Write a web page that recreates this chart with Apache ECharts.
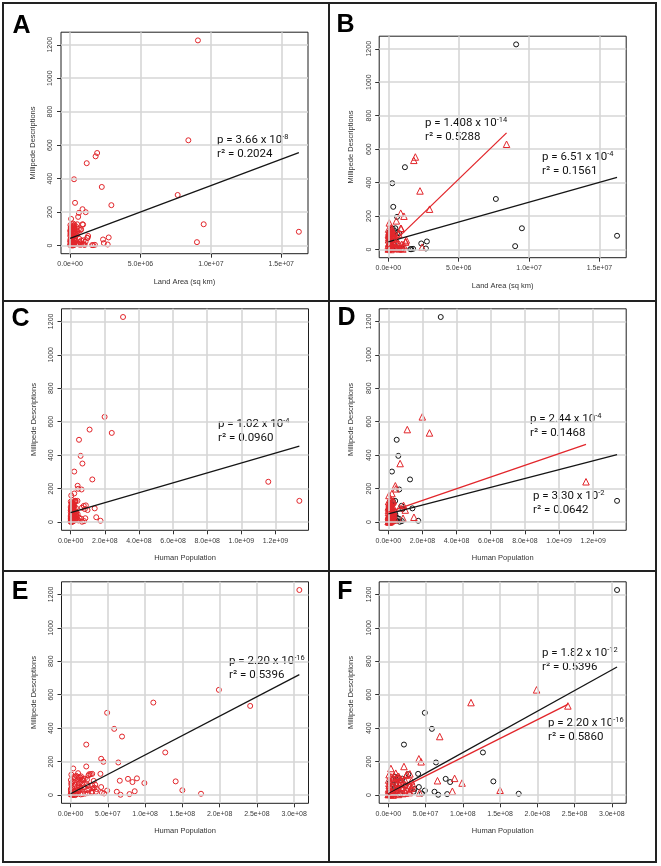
<!DOCTYPE html>
<html><head><meta charset="utf-8">
<script src="https://cdn.jsdelivr.net/npm/echarts@6/dist/echarts.min.js"></script>
<style>html,body{margin:0;padding:0;background:#fff}#c{width:661px;height:866px}</style>
</head><body><div id="c"></div>
<script>
// ---------- DATA ----------
// land area (km^2)
const landArea = [
 9.08e6,8.40e6,7.64e6,9.49e6,9.01e6,16.25e6,1.92e6,1.81e6,1.18e6,0.28e6,
 2.25e6,2.93e6,0.35e6,0.88e6,1.11e6,0.62e6,0.57e6,0.07e6,0.88e6,0.50e6,
 0.31e6,0.14e6,0.80e6,0.78e6,0.30e6,0.36e6,0.33e6,0.51e6,0.24e6,1.63e6,
 1.00e6,1.10e6,0.10e6,0.58e6,2.74e6,2.67e6,2.34e6,2.40e6,1.56e6,1.76e6,
 1.28e6,1.22e6,0.92e6,0.21e6,
 0.05e6,0.11e6,0.19e6,0.24e6,0.32e6,0.27e6,0.46e6,0.08e6,0.04e6,0.39e6,
 0.03e6,0.11e6,0.20e6,0.75e6,0.62e6,0.09e6,0.01e6,0.03e6,0.45e6,0.17e6,
 0.07e6,0.30e6,0.65e6,0.25e6,0.12e6,0.02e6,0.96e6,0.41e6,0.04e6,0.09e6,
 0.14e6,0.33e6,0.55e6,0.21e6,0.06e6,0.01e6,0.003e6,0.27e6,0.10e6,0.19e6,
 0.75e6,0.63e6,1.03e6,0.46e6,0.24e6,0.07e6,0.002e6,0.18e6,0.34e6,0.12e6,
 0.28e6,0.53e6,0.05e6,0.02e6,0.08e6,0.16e6,1.24e6,0.01e6,0.11e6,0.04e6,
 0.80e6,0.26e6,0.92e6,0.70e6
];
// human population
const humanPop = [
 307e6,199e6,21e6,1340e6,34e6,141e6,111e6,241e6,49e6,58.5e6,
 69e6,1158e6,127e6,41e6,44e6,64e6,21e6,3.5e6,29e6,40e6,
 27e6,150e6,175e6,77e6,89e6,83e6,99e6,66e6,62e6,67e6,
 79e6,86e6,49e6,45e6,41e6,16e6,35e6,42e6,2.7e6,6.4e6,
 29e6,18e6,25e6,10e6,
 4.5e6,7.5e6,11e6,14e6,17e6,24e6,9e6,10e6,16.5e6,13e6,
 3.2e6,11e6,22e6,15e6,19e6,6e6,1.2e6,0.8e6,33e6,5.3e6,
 8.8e6,31e6,30e6,25e6,2.1e6,0.3e6,12e6,7.1e6,10.6e6,4.4e6,
 3.3e6,28e6,23e6,19.5e6,1.9e6,0.1e6,0.05e6,4.6e6,2.7e6,6.4e6,
 13.7e6,3.6e6,3.4e6,7.3e6,1.3e6,4.0e6,0.4e6,9.5e6,32e6,23e6,
 14.5e6,15e6,5.9e6,1.0e6,13e6,22e6,13e6,0.4e6,10.5e6,2.0e6,
 22e6,2.5e6,9.2e6,29e6
];
// millipede descriptions
const descriptions = [
 1226,629,302,127,20,82,553,533,492,396,
 350,241,255,217,199,195,171,159,127,127,
 125,29,8,97,100,78,72,86,20,2,
 6,23,27,10,48,6,36,14,2,4,
 57,46,125,131,
 108,115,104,112,96,118,110,95,88,76,
 82,72,65,92,98,63,58,70,62,52,
 47,85,40,33,41,36,31,28,25,22,
 18,15,12,9,7,5,3,2,1,0,
 4,6,3,11,14,19,24,30,44,55,
 38,68,100,122,105,92,45,90,60,75,
 30,10,8,21
];
// region group: 0 = black circles, 1 = red triangles
const region = [
 0,1,0,0,0,0,1,1,0,0,
 1,1,0,1,1,0,1,1,1,0,
 0,1,0,0,1,0,1,1,0,0,
 0,1,0,0,0,0,0,1,0,0,
 1,1,1,1,
 1,1,1,1,1,1,0,0,0,1,
 1,1,1,1,0,0,1,1,1,1,
 0,1,1,1,1,1,1,0,0,0,
 1,1,1,1,1,1,1,0,0,1,
 1,1,1,1,0,1,1,1,1,0,
 1,1,1,1,0,1,1,1,0,0,
 1,1,1,1
];
// tick values
const yTicks = [0,200,400,600,800,1000,1200];
const areaTicks = [0,5e6,1e7,1.5e7];
const popTicksWide = [0,2e8,4e8,6e8,8e8,1e9,1.2e9];
const popTicksNarrow = [0,5e7,1e8,1.5e8,2e8,2.5e8,3e8];
// fitted regression line end points [x,y]
const fitA = [[0,42],[16.25e6,555]];
const fitBblack = [[0,46],[16.25e6,431]];
const fitBred = [[0,14],[8.40e6,697]];
const fitC = [[0,56],[1.34e9,454]];
const fitDred = [[0,59],[1.158e9,464]];
const fitDblack = [[0,49],[1.34e9,404]];
const fitE = [[0,8],[3.07e8,720]];
const fitFblack = [[0,7],[3.07e8,766]];
const fitFred = [[0,3],[2.41e8,542]];
// annotation texts: p mantissa, p exponent, r squared
const statP = ['3.66','1.408','6.51','1.02','2.44','3.30','2.20','1.82','2.20'];
const statExp = ['-8','-14','-4','-4','-4','-2','-16','-12','-16'];
const statR2 = ['0.2024','0.5288','0.1561','0.0960','0.1468','0.0642','0.5396','0.5396','0.5860'];
const panelLetters = ['A','B','C','D','E','F'];
const xNames = ['Land Area (sq km)','Land Area (sq km)','Human Population','Human Population','Human Population','Human Population'];
const yName = 'Millipede Descriptions';

// ---------- LAYOUT ----------
const RED = '#e2262b', BLK = '#151515', GRID = '#d6d6d6';
const W = 247, H = 221.5;
const boxes = [[61,32.2],[379.2,36.2],[61.5,308.8],[379.2,308.8],[61.5,581.8],[379.2,581.8]];
const letterPos = [[21.5,26],[345.5,25],[20.5,319.5],[346.5,318],[20,592.5],[345,592.5]];
const notePos = [[217,140],[425,123],[542,157],[218,424],[530,419],[533,496],[229,661],[542,653],[548,723]];

function sci(v){
  if (v === 0) return '0.0e+00';
  const e = Math.floor(Math.log10(v) + 1e-9);
  const m = v / Math.pow(10, e);
  return m.toFixed(1) + 'e+' + (e < 10 ? '0' : '') + e;
}
function ext(vals){
  const mn = Math.min(...vals), mx = Math.max(...vals), p = (mx - mn) * 0.04;
  return [mn - p, mx + p];
}

const idxAll = descriptions.map((_, i) => i);
const idxNarrow = idxAll.filter(i => humanPop[i] < 5e8);

const panelDefs = [
  {xs: landArea, idx: idxAll, split: false, ticks: areaTicks, fits: [[fitA, BLK]]},
  {xs: landArea, idx: idxAll, split: true, ticks: areaTicks, fits: [[fitBblack, BLK],[fitBred, RED]]},
  {xs: humanPop, idx: idxAll, split: false, ticks: popTicksWide, fits: [[fitC, BLK]]},
  {xs: humanPop, idx: idxAll, split: true, ticks: popTicksWide, fits: [[fitDblack, BLK],[fitDred, RED]]},
  {xs: humanPop, idx: idxNarrow, split: false, ticks: popTicksNarrow, fits: [[fitE, BLK]]},
  {xs: humanPop, idx: idxNarrow, split: true, ticks: popTicksNarrow, fits: [[fitFblack, BLK],[fitFred, RED]]}
];

const grids = [], xAxes = [], yAxes = [], series = [];
const FONT = 'Liberation Sans, Arial, sans-serif';
const yr = ext(descriptions);

panelDefs.forEach((pd, k) => {
  grids.push({left: boxes[k][0], top: boxes[k][1], width: W, height: H,
    show: true, borderColor: '#1e1e1e', borderWidth: 1, backgroundColor: 'transparent', z: 3});
  const xr = ext(pd.idx.map(i => pd.xs[i]));
  xAxes.push({gridIndex: k, type: 'value', min: xr[0], max: xr[1],
    axisLine: {show: false, onZero: false},
    axisTick: {show: true, length: 4, customValues: pd.ticks, lineStyle: {color: '#333', width: 1}},
    axisLabel: {customValues: pd.ticks, formatter: sci, fontSize: 7, color: '#3a3a3a', margin: 7, fontFamily: FONT},
    splitLine: {show: false},
    name: xNames[k], nameLocation: 'middle', nameGap: 24,
    nameTextStyle: {fontSize: 7.5, color: '#333', fontFamily: FONT}
  });
  yAxes.push({gridIndex: k, type: 'value', min: yr[0], max: yr[1],
    axisLine: {show: false, onZero: false},
    axisTick: {show: true, length: 4, customValues: yTicks, lineStyle: {color: '#333', width: 1}},
    axisLabel: {customValues: yTicks, rotate: 90, fontSize: 7, color: '#3a3a3a', margin: 7, fontFamily: FONT,
      formatter: v => String(v)},
    splitLine: {show: false},
    name: yName, nameLocation: 'middle', nameGap: 24, nameRotate: 90,
    nameTextStyle: {fontSize: 7.5, color: '#333', fontFamily: FONT}
  });
  // grid lines at the tick values
  series.push({type: 'line', xAxisIndex: k, yAxisIndex: k, data: [], silent: true, z: 1,
    markLine: {silent: true, symbol: ['none','none'], label: {show: false}, animation: false,
      lineStyle: {color: GRID, width: 1.6, type: 'solid'},
      emphasis: {disabled: true},
      data: pd.ticks.map(v => ({xAxis: v})).concat(yTicks.map(v => ({yAxis: v})))}});
  const groups = pd.split ? [0, 1] : [null];
  groups.forEach(g => {
    const pts = pd.idx.filter(i => g === null || region[i] === g).map(i => [pd.xs[i], descriptions[i]]);
    const isRed = g !== 0;
    series.push({type: 'scatter', xAxisIndex: k, yAxisIndex: k, data: pts, silent: true, z: 2,
      symbol: g === 1 ? 'triangle' : 'circle', symbolSize: g === 1 ? 6.5 : 5,
      itemStyle: {color: 'rgba(0,0,0,0)', borderColor: isRed ? RED : BLK, borderWidth: 1, opacity: 1}
    });
  });
  pd.fits.forEach(([f, col]) => {
    series.push({type: 'line', xAxisIndex: k, yAxisIndex: k, data: f, showSymbol: false, silent: true,
      lineStyle: {color: col, width: 1.3}, z: 5});
  });
});

const graphic = [];
// frame
graphic.push({type: 'rect', shape: {x: 3, y: 3, width: 653, height: 859}, style: {fill: 'none', stroke: '#222', lineWidth: 2}});
graphic.push({type: 'line', shape: {x1: 329, y1: 3, x2: 329, y2: 862}, style: {stroke: '#222', lineWidth: 2}});
graphic.push({type: 'line', shape: {x1: 3, y1: 301, x2: 656, y2: 301}, style: {stroke: '#222', lineWidth: 2}});
graphic.push({type: 'line', shape: {x1: 3, y1: 571, x2: 656, y2: 571}, style: {stroke: '#222', lineWidth: 2}});
panelLetters.forEach((L, k) => {
  graphic.push({type: 'text', x: letterPos[k][0], y: letterPos[k][1],
    style: {text: L, font: '900 25px "Liberation Sans", Arial, sans-serif', fill: '#000', align: 'center', verticalAlign: 'middle'}});
});
notePos.forEach((np, j) => {
  graphic.push({type: 'text', x: np[0], y: np[1] - 7,
    style: {text: '{a|p = ' + statP[j] + ' x 10}{s|' + statExp[j] + '}\n{a|r² = ' + statR2[j] + '}',
      fill: '#111', align: 'left', verticalAlign: 'top',
      rich: {a: {fontSize: 11.5, lineHeight: 14, fontFamily: 'Roboto, sans-serif', fill: '#111'},
             s: {fontSize: 7.5, lineHeight: 13, verticalAlign: 'top', fontFamily: 'Roboto, sans-serif', fill: '#111'}}}});
});

const chart = echarts.init(document.getElementById('c'), null, {renderer: 'canvas'});
chart.setOption({animation: false, backgroundColor: '#fff', grid: grids, xAxis: xAxes, yAxis: yAxes, series: series, graphic: graphic});
</script>
</body></html>
